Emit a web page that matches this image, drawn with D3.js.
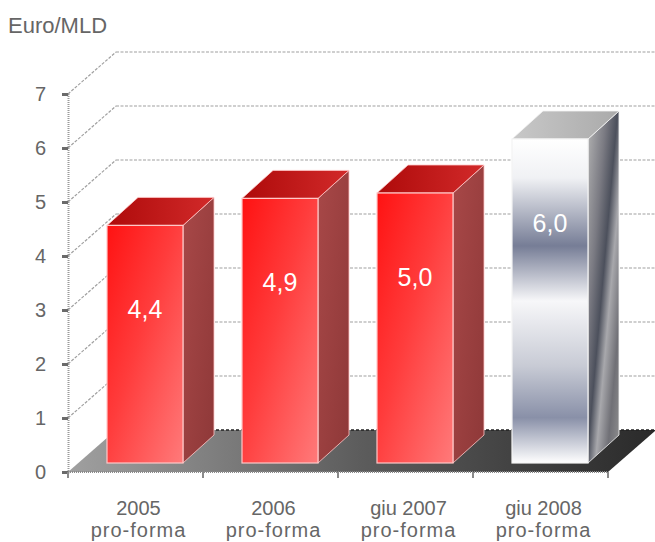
<!DOCTYPE html>
<html>
<head>
<meta charset="utf-8">
<script src="https://cdn.jsdelivr.net/npm/d3@7"></script>
<style>
  html, body { margin: 0; padding: 0; background: #fff; }
  svg { display: block; font-family: "Liberation Sans", Arial, sans-serif; }
  .grid { fill: none; stroke: #a0a0a0; stroke-width: 1.2; stroke-dasharray: 3 1.5; }
  .cat  { fill: #666; font-size: 20px; text-anchor: middle; }
  .val  { fill: #fff; font-size: 25px; text-anchor: middle; dominant-baseline: central; }
</style>
</head>
<body>
<svg id="chart" width="655" height="542"></svg>
<script>
const categories = ["2005", "2006", "giu 2007", "giu 2008"];
const subLabel   = "pro-forma";
const values     = [4.4, 4.9, 5.0, 6.0];
const yTicks     = [0, 1, 2, 3, 4, 5, 6, 7];
const yTitle     = "Euro/MLD";

const WALL_DX = 48, WALL_DY = -42;     // depth of the chart box
const BAR_DX0 = 10, BAR_DY0 = -9;      // where the bar front sits inside the box
const BAR_DX  = 31, BAR_DY  = -28;     // bar depth
const BAR_OFF = 29, BAR_W   = 76;      // bar front inside the band

const svg = d3.select("#chart");
const fmt = d3.formatLocale({ decimal: ",", thousands: ".", grouping: [3], currency: ["", "€"] }).format(".1f");

const x = d3.scaleBand().domain(categories).range([68, 608]).padding(0);
const y = d3.scaleLinear().domain([0, 7]).range([472, 94]);

// gradients
const defs = svg.append("defs");
function grad(id, stops, x2, y2) {
  const g = defs.append("linearGradient").attr("id", id)
    .attr("x1", 0).attr("y1", 0).attr("x2", x2).attr("y2", y2);
  stops.forEach(([o, c]) => g.append("stop").attr("offset", o).attr("stop-color", c));
}
grad("redFront", [[0, "#ff1212"], [0.45, "#ff3c3c"], [1, "#ff7a7a"]], 1, 1);
grad("redSide",  [[0, "#a84848"], [1, "#8e3838"]], 1, 1);
grad("redTop",   [[0, "#ae0a0a"], [1, "#d22a2a"]], 1, 0);
grad("silFront", [[0, "#ffffff"], [0.12, "#f0f1f4"], [0.33, "#767d96"], [0.5, "#f7f7f9"],
                  [0.7, "#c8cbd5"], [0.86, "#8990a8"], [1, "#ffffff"]], 0, 1);
grad("silSide",  [[0, "#b4b4b4"], [0.3, "#7a7a82"], [0.48, "#4c505c"], [0.62, "#a8a8ac"],
                  [0.8, "#707076"], [1, "#909090"]], 1, 1);
grad("silTop",   [[0, "#c8c8c8"], [1, "#aaaaaa"]], 1, 0);
grad("floor",    [[0, "#a0a0a0"], [0.5, "#5c5c5c"], [1, "#2a2a2a"]], 1, 0);

// back wall grid + left wall diagonals
const x0 = x.range()[0], x1 = x.range()[1];
const grid = svg.append("g");
grid.selectAll("line.back").data(yTicks.filter(d => d > 0)).join("line")
  .attr("class", "grid back")
  .attr("x1", x0 + WALL_DX).attr("x2", 655)
  .attr("y1", d => y(d) + WALL_DY).attr("y2", d => y(d) + WALL_DY);
grid.selectAll("line.side").data(yTicks.filter(d => d > 0)).join("line")
  .attr("class", "grid side")
  .attr("x1", x0).attr("x2", x0 + WALL_DX)
  .attr("y1", d => y(d)).attr("y2", d => y(d) + WALL_DY);

// floor
svg.append("path")
  .attr("d", `M${x0},${y(0)}L${x1},${y(0)}L${x1 + WALL_DX},${y(0) + WALL_DY}L${x0 + WALL_DX},${y(0) + WALL_DY}Z`)
  .attr("fill", "url(#floor)");
svg.append("line")
  .attr("x1", x0 + WALL_DX).attr("x2", 655)
  .attr("y1", y(0) + WALL_DY).attr("y2", y(0) + WALL_DY)
  .attr("stroke", "#222").attr("stroke-width", 1.5).attr("stroke-dasharray", "3 2");

// bars
svg.append("g").selectAll("g").data(values).join("g")
  .each(function (v, i) {
    const g = d3.select(this);
    const silver = i === values.length - 1;
    const fx = x(categories[i]) + BAR_OFF + BAR_DX0;
    const fb = y(0) + BAR_DY0;
    const ft = y(v) + BAR_DY0;
    const fr = fx + BAR_W;
    const edge = silver ? "#f4f4f4" : "#ffc8c8";

    g.append("path")
      .attr("d", `M${fr},${ft}L${fr + BAR_DX},${ft + BAR_DY}L${fr + BAR_DX},${fb + BAR_DY}L${fr},${fb}Z`)
      .attr("fill", silver ? "url(#silSide)" : "url(#redSide)")
      .attr("stroke", edge).attr("stroke-width", 0.8);
    g.append("path")
      .attr("d", `M${fx},${ft}L${fx + BAR_DX},${ft + BAR_DY}L${fr + BAR_DX},${ft + BAR_DY}L${fr},${ft}Z`)
      .attr("fill", silver ? "url(#silTop)" : "url(#redTop)")
      .attr("stroke", edge).attr("stroke-width", 0.8);
    g.append("rect")
      .attr("x", fx).attr("y", ft).attr("width", BAR_W).attr("height", fb - ft)
      .attr("fill", silver ? "url(#silFront)" : "url(#redFront)")
      .attr("stroke", edge).attr("stroke-width", 1.2);
    g.append("text").attr("class", "val")
      .attr("x", fx + BAR_W / 2).attr("y", ft + 84)
      .text(fmt(v));
  });

// y axis
const yAxis = svg.append("g")
  .attr("transform", `translate(${x0},0)`)
  .call(d3.axisLeft(y).tickValues(yTicks).tickSize(6).tickPadding(16).tickFormat(d3.format("d")));
yAxis.select(".domain").attr("stroke", "#9a9a9a").attr("stroke-width", 2).attr("stroke-dasharray", "1 1");
yAxis.selectAll(".tick line").attr("stroke", "#6a6a6a").attr("stroke-width", 3);
yAxis.selectAll(".tick text").attr("fill", "#666").attr("font-size", 20)
  .attr("font-family", "Liberation Sans, Arial, sans-serif");

// x axis
const xAxis = svg.append("g").attr("transform", `translate(0,${y(0)})`);
xAxis.append("line").attr("x1", x0).attr("x2", x1)
  .attr("stroke", "#8a8a8a").attr("stroke-width", 2).attr("stroke-dasharray", "1 1");
xAxis.selectAll("line.tk").data(categories.map(c => x(c)).concat([x1])).join("line")
  .attr("class", "tk")
  .attr("x1", d => d).attr("x2", d => d).attr("y1", 0).attr("y2", 6)
  .attr("stroke", "#8a8a8a").attr("stroke-width", 2);

const cats = svg.append("g").selectAll("text").data(categories).join("text")
  .attr("class", "cat")
  .attr("transform", d => `translate(${x(d) + x.bandwidth() / 2 + 3},515)`);
cats.append("tspan").attr("x", 0).attr("y", 0).text(d => d);
cats.append("tspan").attr("x", 0).attr("y", 22).attr("letter-spacing", 1).text(subLabel);

// title
svg.append("text").attr("x", 8).attr("y", 33)
  .attr("fill", "#666").attr("font-size", 22).text(yTitle);
</script>
</body>
</html>
